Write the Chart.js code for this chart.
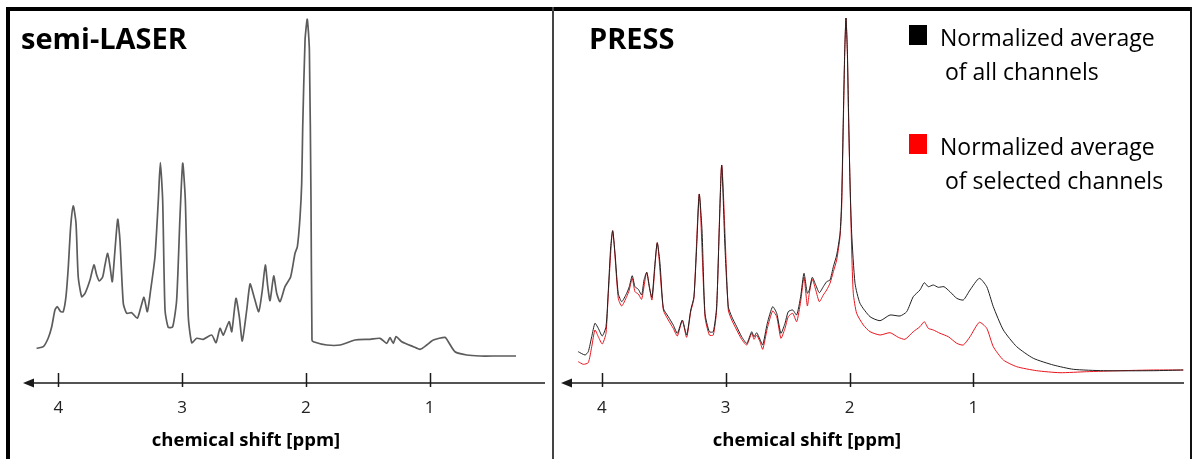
<!DOCTYPE html>
<html>
<head>
<meta charset="utf-8">
<script src="https://cdn.jsdelivr.net/npm/chart.js@4.4.1/dist/chart.umd.min.js"></script>
<style>
  body { margin: 0; background: #fff; }
  #wrap { position: relative; width: 1192px; height: 459px; overflow: hidden; }
  canvas { position: absolute; top: 0; }
  #cLaser { left: 0; }
  #cPress { left: 553px; }
  .frameTop { position: absolute; left: 6px; top: 7px; width: 1186px; height: 4px; background: #000; }
  .frameLeft { position: absolute; left: 6px; top: 7px; width: 4px; height: 452px; background: #000; }
  .divider { position: absolute; left: 552px; top: 7px; width: 2px; height: 452px; background: #444; }
  .frameRight { position: absolute; left: 1190px; top: 7px; width: 2px; height: 452px; background: #111; }
</style>
</head>
<body>
<div id="wrap">
  <canvas id="cLaser" width="553" height="459"></canvas>
  <canvas id="cPress" width="639" height="459"></canvas>
  <div class="frameTop"></div>
  <div class="frameLeft"></div>
  <div class="divider"></div>
  <div class="frameRight"></div>
</div>
<script>
// x axis ticks (ppm)
const tickValues = [4, 3, 2, 1];

// semi-LASER spectrum (ppm, intensity a.u.)
const laserPpm = [4.175, 4.121, 4.081, 4.053, 4.027, 4.008, 3.981, 3.960, 3.938, 3.919, 3.900, 3.879, 3.857, 3.839, 3.811, 3.784,
  3.744, 3.712, 3.690, 3.669, 3.641, 3.623, 3.601, 3.582, 3.564, 3.542, 3.520, 3.502, 3.475, 3.448, 3.407, 3.362,
  3.332, 3.308, 3.281, 3.254, 3.219, 3.192, 3.176, 3.157, 3.138, 3.112, 3.076, 3.044, 3.017, 2.995, 2.974, 2.950,
  2.922, 2.882, 2.829, 2.761, 2.726, 2.694, 2.667, 2.621, 2.599, 2.565, 2.538, 2.514, 2.478, 2.451, 2.419, 2.381,
  2.352, 2.328, 2.308, 2.290, 2.260, 2.236, 2.209, 2.169, 2.123, 2.088, 2.069, 2.048, 2.034, 2.026, 2.007, 1.989,
  1.972, 1.959, 1.951, 1.940, 1.832, 1.724, 1.603, 1.482, 1.401, 1.347, 1.321, 1.294, 1.272, 1.226, 1.132, 1.078,
  1.024, 0.971, 0.876, 0.850, 0.796, 0.701, 0.594, 0.459, 0.303];
const laserIntensity = [34.7, 36.3, 45, 56.3, 73, 76.3, 71.3, 71.3, 86.3, 116.3, 156.3, 177, 160, 106.3, 86.3, 89.7,
  103, 118, 108, 102, 106.3, 118, 129.7, 116.3, 101.3, 133, 163.7, 143, 79.7, 69.7, 70.3, 64.7,
  76.3, 85.7, 71.3, 93, 126.3, 183, 220.3, 183, 73, 55.7, 56.3, 83, 166.3, 219.7, 183, 66.3,
  40.3, 44.7, 43.7, 48, 40.3, 54.7, 48, 61.3, 51.3, 84.7, 66.3, 42, 73, 99, 86.3, 71.3,
  93, 118, 96.3, 82.3, 107, 89.7, 81.3, 96.3, 106.3, 129.7, 136.3, 165, 200, 255, 343, 363.7,
  333, 183, 43, 41.3, 38, 38, 43, 43.7, 44.7, 39.7, 45.3, 39.7, 46.3, 41.3, 36.3, 33.7,
  38, 43, 45.7, 41.3, 31.3, 28, 27, 27, 27];

// PRESS: normalized average of all channels
const pressAllPpm = [4.190, 4.135, 4.109, 4.081, 4.055, 4.028, 3.996, 3.966, 3.947, 3.928, 3.912, 3.893, 3.867, 3.839, 3.799, 3.778,
  3.754, 3.732, 3.705, 3.678, 3.659, 3.637, 3.617, 3.595, 3.573, 3.552, 3.530, 3.503, 3.463, 3.423, 3.390, 3.350,
  3.315, 3.282, 3.256, 3.234, 3.213, 3.191, 3.167, 3.132, 3.100, 3.073, 3.052, 3.032, 3.006, 2.979, 2.951, 2.911,
  2.871, 2.830, 2.790, 2.771, 2.750, 2.723, 2.701, 2.664, 2.621, 2.588, 2.554, 2.521, 2.495, 2.459, 2.427, 2.395,
  2.368, 2.341, 2.325, 2.301, 2.273, 2.244, 2.212, 2.185, 2.158, 2.131, 2.104, 2.077, 2.064, 2.051, 2.039, 2.029,
  2.018, 2.010, 1.997, 1.983, 1.956, 1.916, 1.835, 1.754, 1.674, 1.593, 1.539, 1.486, 1.432, 1.397, 1.365, 1.324,
  1.284, 1.238, 1.190, 1.135, 1.082, 1.028, 0.953, 0.893, 0.840, 0.759, 0.651, 0.517, 0.356, 0.194, -0.048, -0.451, -0.693];
const pressAll = [31.3, 28, 31.3, 46.3, 59.7, 54.7, 47, 56.3, 93, 136.3, 152.3, 129.7, 89.7, 81.3, 89.7, 96.3,
  107.3, 96.3, 93.7, 88, 103, 110.7, 96.3, 85.7, 116.3, 140.3, 119.7, 74.7, 66.3, 58, 49.7, 63,
  48, 73, 86.3, 136.3, 189, 153, 69.7, 51.3, 51.3, 76.3, 153, 218, 136.3, 76.3, 66.3, 56.3,
  46.3, 39.7, 51.3, 46.3, 50.3, 43.7, 38, 59.7, 76.3, 69.7, 49.7, 59.7, 71.3, 73, 68, 86.3,
  109.7, 89.7, 93, 105.7, 98, 90.3, 96.3, 101.3, 103, 116.3, 128, 149.7, 183, 263, 333, 365,
  333, 283, 203, 149.7, 99.7, 79.7, 66.3, 62.3, 68, 67, 71.3, 86.3, 93, 100.3, 96.3, 98,
  95.7, 96.3, 91.3, 84.7, 83, 93, 104.7, 96.3, 76.3, 53, 36.3, 24.7, 18, 13.7, 12.3, 12.3, 13];

// PRESS: normalized average of selected channels
const pressSelPpm = [4.190, 4.149, 4.109, 4.081, 4.055, 4.028, 3.996, 3.966, 3.947, 3.912, 3.867, 3.839, 3.799, 3.778, 3.754, 3.732,
  3.705, 3.678, 3.637, 3.595, 3.552, 3.503, 3.463, 3.423, 3.390, 3.350, 3.315, 3.282, 3.256, 3.213, 3.167, 3.132,
  3.100, 3.073, 3.032, 2.979, 2.951, 2.911, 2.871, 2.830, 2.790, 2.771, 2.750, 2.723, 2.701, 2.664, 2.621, 2.588,
  2.554, 2.521, 2.495, 2.459, 2.427, 2.395, 2.368, 2.341, 2.325, 2.301, 2.273, 2.244, 2.212, 2.185, 2.158, 2.131,
  2.104, 2.077, 2.064, 2.051, 2.039, 2.029, 2.018, 2.010, 2.002, 1.983, 1.970, 1.943, 1.889, 1.835, 1.754, 1.674,
  1.607, 1.553, 1.486, 1.432, 1.397, 1.365, 1.324, 1.270, 1.203, 1.135, 1.082, 1.028, 0.953, 0.893, 0.840, 0.759,
  0.651, 0.490, 0.302, 0.087, -0.182, -0.451, -0.693];
const pressSel = [21.3, 18.7, 20.3, 36.3, 53, 46.3, 39, 49.7, 89.7, 152.3, 84.7, 77, 86.3, 93, 104.7, 91.3,
  89, 83.7, 110.7, 83, 140.3, 73, 63, 54.7, 47, 62.3, 45.7, 71.3, 84.7, 189, 66.3, 48,
  48, 73, 218, 73, 63, 53, 43.7, 38, 49.7, 43.7, 48, 41.3, 33.7, 54.7, 72, 66.3,
  44.7, 54.7, 66.3, 69.7, 61.3, 81.3, 105.7, 77, 89.7, 103.7, 93, 81.3, 88, 93, 99.7, 111.3,
  123, 146.3, 175, 255, 330, 365, 330, 275, 230, 133, 89.7, 69.7, 58, 51.3, 48, 50.3,
  45.7, 43.7, 51.3, 56.3, 61.3, 54.7, 53, 49.7, 46.3, 39.7, 38, 46.3, 60.7, 54.7, 36.3, 23,
  16.3, 12.3, 10.3, 11.3, 12.3, 13, 13];

const FONT = '"Open Sans", "Noto Sans", sans-serif';

function pts(xs, ys) {
  return xs.map((x, i) => ({ x: x, y: ys[i] }));
}

// arrow axis, tick marks, axis title, panel title
function axisPlugin(panelTitle, axisTitleX, legend) {
  return {
    id: 'axisDeco',
    afterDraw(chart) {
      const ctx = chart.ctx;
      const area = chart.chartArea;
      const xs = chart.scales.x;
      const y0 = area.bottom;
      ctx.save();
      ctx.strokeStyle = '#1a1a1a';
      ctx.fillStyle = '#1a1a1a';
      ctx.lineWidth = 1.5;
      ctx.beginPath();
      ctx.moveTo(area.left + 6, y0);
      ctx.lineTo(area.right, y0);
      ctx.stroke();
      // arrow head pointing to higher ppm
      ctx.beginPath();
      ctx.moveTo(area.left, y0);
      ctx.lineTo(area.left + 11, y0 - 4.5);
      ctx.lineTo(area.left + 11, y0 + 4.5);
      ctx.closePath();
      ctx.fill();
      tickValues.forEach(v => {
        const px = Math.round(xs.getPixelForValue(v)) + 0.5;
        ctx.beginPath();
        ctx.moveTo(px, y0 - 10);
        ctx.lineTo(px, y0 + 4);
        ctx.stroke();
      });
      ctx.fillStyle = '#000';
      ctx.textBaseline = 'middle';
      ctx.textAlign = 'center';
      ctx.font = 'bold 18.5px ' + FONT;
      ctx.fillText('chemical shift [ppm]', axisTitleX, 441);
      ctx.textAlign = 'left';
      ctx.textBaseline = 'alphabetic';
      ctx.font = 'bold 29px ' + FONT;
      ctx.fillText(panelTitle.text, panelTitle.x, 49);
      if (legend) {
        ctx.font = '23px ' + FONT;
        ctx.textBaseline = 'middle';
        legend.forEach(item => {
          ctx.fillStyle = item.color;
          ctx.fillRect(item.x, item.y, 18, 20);
          ctx.fillStyle = '#000';
          ctx.fillText(item.lines[0], item.x + 31, item.y + 14);
          ctx.fillText(item.lines[1], item.x + 36, item.y + 48);
        });
      }
      ctx.restore();
    }
  };
}

function xScale(min, max) {
  return {
    type: 'linear',
    reverse: true,
    min: min,
    max: max,
    grid: { display: false, drawTicks: false },
    border: { display: false },
    afterBuildTicks: scale => { scale.ticks = tickValues.map(v => ({ value: v })); },
    afterFit: scale => { scale.height = 76; },
    ticks: {
      padding: 15,
      color: '#222',
      font: { family: FONT, size: 17 },
      callback: v => String(v)
    }
  };
}

const yScale = { display: false, min: 0, max: 365 };

new Chart(document.getElementById('cLaser'), {
  type: 'line',
  data: {
    datasets: [{
      label: 'semi-LASER',
      data: pts(laserPpm, laserIntensity),
      borderColor: '#5c5c5c',
      borderWidth: 1.7,
      pointRadius: 0,
      tension: 0.2
    }]
  },
  options: {
    responsive: false,
    animation: false,
    devicePixelRatio: 1,
    layout: { padding: { left: 23, right: 8, top: 18, bottom: 0 } },
    scales: { x: xScale(0.069, 4.285), y: yScale },
    plugins: { legend: { display: false }, tooltip: { enabled: false } }
  },
  plugins: [axisPlugin({ text: 'semi-LASER', x: 21 }, 246, null)]
});

new Chart(document.getElementById('cPress'), {
  type: 'line',
  data: {
    datasets: [
      {
        label: 'Normalized average of all channels',
        data: pts(pressAllPpm, pressAll),
        borderColor: '#202020',
        borderWidth: 1,
        pointRadius: 0,
        tension: 0.2
      },
      {
        label: 'Normalized average of selected channels',
        data: pts(pressSelPpm, pressSel),
        borderColor: '#e8141c',
        borderWidth: 1,
        pointRadius: 0,
        tension: 0.2
      }
    ]
  },
  options: {
    responsive: false,
    animation: false,
    devicePixelRatio: 1,
    layout: { padding: { left: 8, right: 8, top: 18, bottom: 0 } },
    scales: { x: xScale(-0.699, 4.329), y: yScale },
    plugins: { legend: { display: false }, tooltip: { enabled: false } }
  },
  plugins: [axisPlugin({ text: 'PRESS', x: 36 }, 254, [
    { color: '#000', x: 356, y: 25, lines: ['Normalized average', 'of all channels'] },
    { color: '#ff0000', x: 356, y: 134, lines: ['Normalized average', 'of selected channels'] }
  ])]
});
</script>
</body>
</html>
